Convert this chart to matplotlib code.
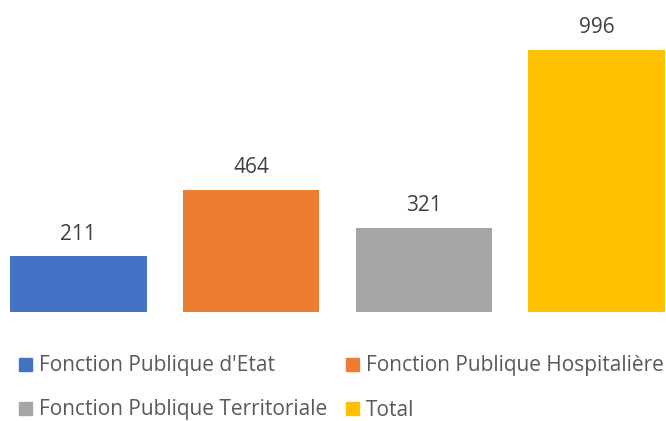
import matplotlib
matplotlib.use("Agg")
import matplotlib.pyplot as plt
from matplotlib.patches import Rectangle

categories = ["Fonction Publique d'Etat", "Fonction Publique Hospitalière",
              "Fonction Publique Territoriale", "Total"]
values = [211, 464, 321, 996]
colors = ["#4472C4", "#ED7D31", "#A5A5A5", "#FFC000"]

plt.rcParams['font.family'] = ['Open Sans', 'DejaVu Sans']

W, H = 666, 421
fig = plt.figure(figsize=(W/100, H/100), dpi=100)
ax = fig.add_axes([10/W, 109/H, 655/W, 1100*0.2632/H])
x = list(range(len(values)))
bars = ax.bar(x, values, width=0.79, color=colors)
ax.set_xlim(-0.395, 3.395)
ax.set_ylim(0, 1100)
ax.axis('off')
for xi, v in zip(x, values):
    ax.annotate(str(v), (xi, v), xytext=(0, 16), textcoords='offset points',
                ha='center', va='center', fontsize=15, color='#404040')

# legend (manual layout)
pos = [(19, 364), (346, 364), (19, 408), (346, 408)]
for (px, py), lab, c in zip(pos, categories, colors):
    fig.patches.append(Rectangle((px/W, (H-py-6.5)/H), 13/W, 13/H,
                                 transform=fig.transFigure, color=c))
    fig.text((px+20)/W, (H-py-2)/H, lab, fontsize=15, color='#595959',
             va='center', ha='left')

fig.savefig("out.png", dpi=100)
